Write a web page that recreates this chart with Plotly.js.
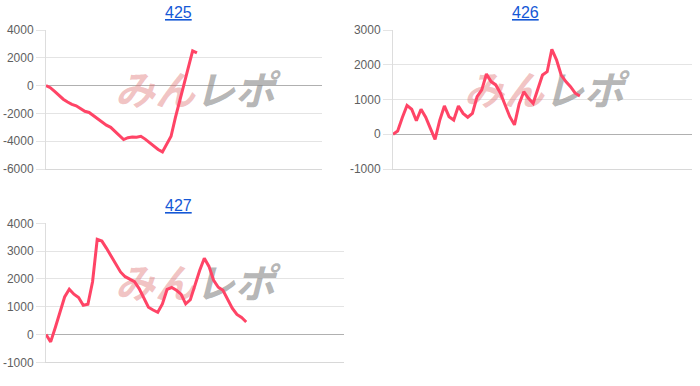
<!DOCTYPE html>
<html>
<head>
<meta charset="utf-8">
<script src="https://cdn.plot.ly/plotly-3.0.1.min.js"></script>
<style>html,body{margin:0;padding:0;background:#fff;}#chart{width:700px;height:386px;}</style>
</head>
<body>
<div id="chart"></div>
<script>
// ---- data ----
const titles = ["425", "426", "427"];
const s425 = [0,-150,-420,-700,-980,-1180,-1350,-1450,-1650,-1850,-1930,-2150,-2400,-2650,-2850,-3000,-3300,-3600,-3880,-3750,-3700,-3720,-3650,-3850,-4100,-4350,-4600,-4770,-4200,-3650,-2300,-1100,100,1300,2500,2350];
const s426 = [0,95,480,830,720,390,720,490,170,-145,400,815,505,410,815,600,490,600,1080,1275,1735,1515,1420,1180,840,505,270,870,1225,1035,890,1295,1705,1800,2445,2140,1705,1515,1370,1180,1100];
const s427 = [0,-265,250,800,1350,1630,1450,1330,1050,1090,1900,3420,3360,3100,2830,2550,2250,2080,1990,1900,1650,1300,980,880,800,1100,1620,1690,1590,1450,1100,1250,1800,2300,2740,2450,1950,1700,1590,1250,950,720,610,450];
const ticks425 = [-6000, -4000, -2000, 0, 2000, 4000];
const ticks426 = [-1000, 0, 1000, 2000, 3000];
const ticks427 = [-1000, 0, 1000, 2000, 3000, 4000];
const tickLabels425 = ["-6000", "-4000", "-2000", "0", "2000", "4000"];
const tickLabels426 = ["-1000", "0", "1000", "2000", "3000"];
const tickLabels427 = ["-1000", "0", "1000", "2000", "3000", "4000"];
const xMax = 64;

// ---- styling ----
const lineColor = "#ff4466";
const font = "'Liberation Sans', Arial, sans-serif";
const series = [s425, s426, s427];
const tickVals = [ticks425, ticks426, ticks427];
const tickTexts = [tickLabels425, tickLabels426, tickLabels427];
const axisIds = [["x", "y"], ["x2", "y2"], ["x3", "y3"]];
const xDomains = [[46/700, 322/700], [393/700, 692/700], [46/700, 344/700]];
const yDomains = [[1-169/386, 1-30/386], [1-169/386, 1-30/386], [1-362.3/386, 1-223.3/386]];
// watermark placement as fraction of plot area
const wmX = [0.54, 0.505, 0.5];
const wmY = 0.535;
const wmText = "<i><b><span style='color:rgba(222,110,110,0.42)'>みん</span><span style='color:rgba(140,140,140,0.65)'>レポ</span></b></i>";

const traces = [];
series.forEach((s, k) => {
  const [xa, ya] = axisIds[k];
  const tv = tickVals[k];
  const yr = [tv[0], tv[tv.length - 1]];
  traces.push({
    type: "scatter", mode: "text", xaxis: xa, yaxis: ya,
    x: [wmX[k] * xMax], y: [yr[0] + wmY * (yr[1] - yr[0])],
    text: [wmText], textposition: "middle center",
    textfont: {family: "'Noto Sans CJK JP', sans-serif", size: 40, color: "#999"},
    hoverinfo: "skip", showlegend: false
  });
  traces.push({
    type: "scatter", mode: "lines", xaxis: xa, yaxis: ya,
    x: s.map((_, i) => i), y: s,
    line: {color: lineColor, width: 3},
    hoverinfo: "skip", showlegend: false
  });
});

const layout = {
  width: 700, height: 386,
  margin: {l: 0, r: 0, t: 0, b: 0},
  paper_bgcolor: "#fff", plot_bgcolor: "#fff",
  font: {family: font, size: 12, color: "#666"},
  showlegend: false,
  annotations: []
};
const titlePos = [[178/700, 1-12/386], [525/700, 1-12/386], [178/700, 1-205/386]];
axisIds.forEach(([xa, ya], k) => {
  const xKey = xa === "x" ? "xaxis" : "xaxis" + xa.slice(1);
  const yKey = ya === "y" ? "yaxis" : "yaxis" + ya.slice(1);
  const tv = tickVals[k];
  layout[xKey] = {
    domain: xDomains[k], range: [0, xMax], anchor: ya,
    showticklabels: false, showgrid: false, zeroline: false,
    showline: true, linecolor: "#d8d8d8", linewidth: 1, ticks: "", fixedrange: true
  };
  layout[yKey] = {
    domain: yDomains[k], range: [tv[0], tv[tv.length - 1]], anchor: xa,
    tickmode: "array", tickvals: tv, ticktext: tickTexts[k],
    showgrid: true, gridcolor: "#e4e4e4", gridwidth: 1,
    zeroline: true, zerolinecolor: "#b0b0b0", zerolinewidth: 1,
    showline: true, linecolor: "#dddddd", linewidth: 1,
    ticks: "outside", ticklen: 9, tickcolor: "#e4e4e4",
    tickfont: {family: font, size: 12, color: "#5f5f5f"}, fixedrange: true
  };
  layout.annotations.push({
    xref: "paper", yref: "paper", x: titlePos[k][0], y: titlePos[k][1],
    xanchor: "center", yanchor: "middle", showarrow: false,
    text: "<span style='text-decoration:underline'>" + titles[k] + "</span>",
    font: {family: font, size: 16, color: "#1558d6"}
  });
});

Plotly.newPlot("chart", traces, layout, {staticPlot: true, displayModeBar: false});
</script>
</body>
</html>
